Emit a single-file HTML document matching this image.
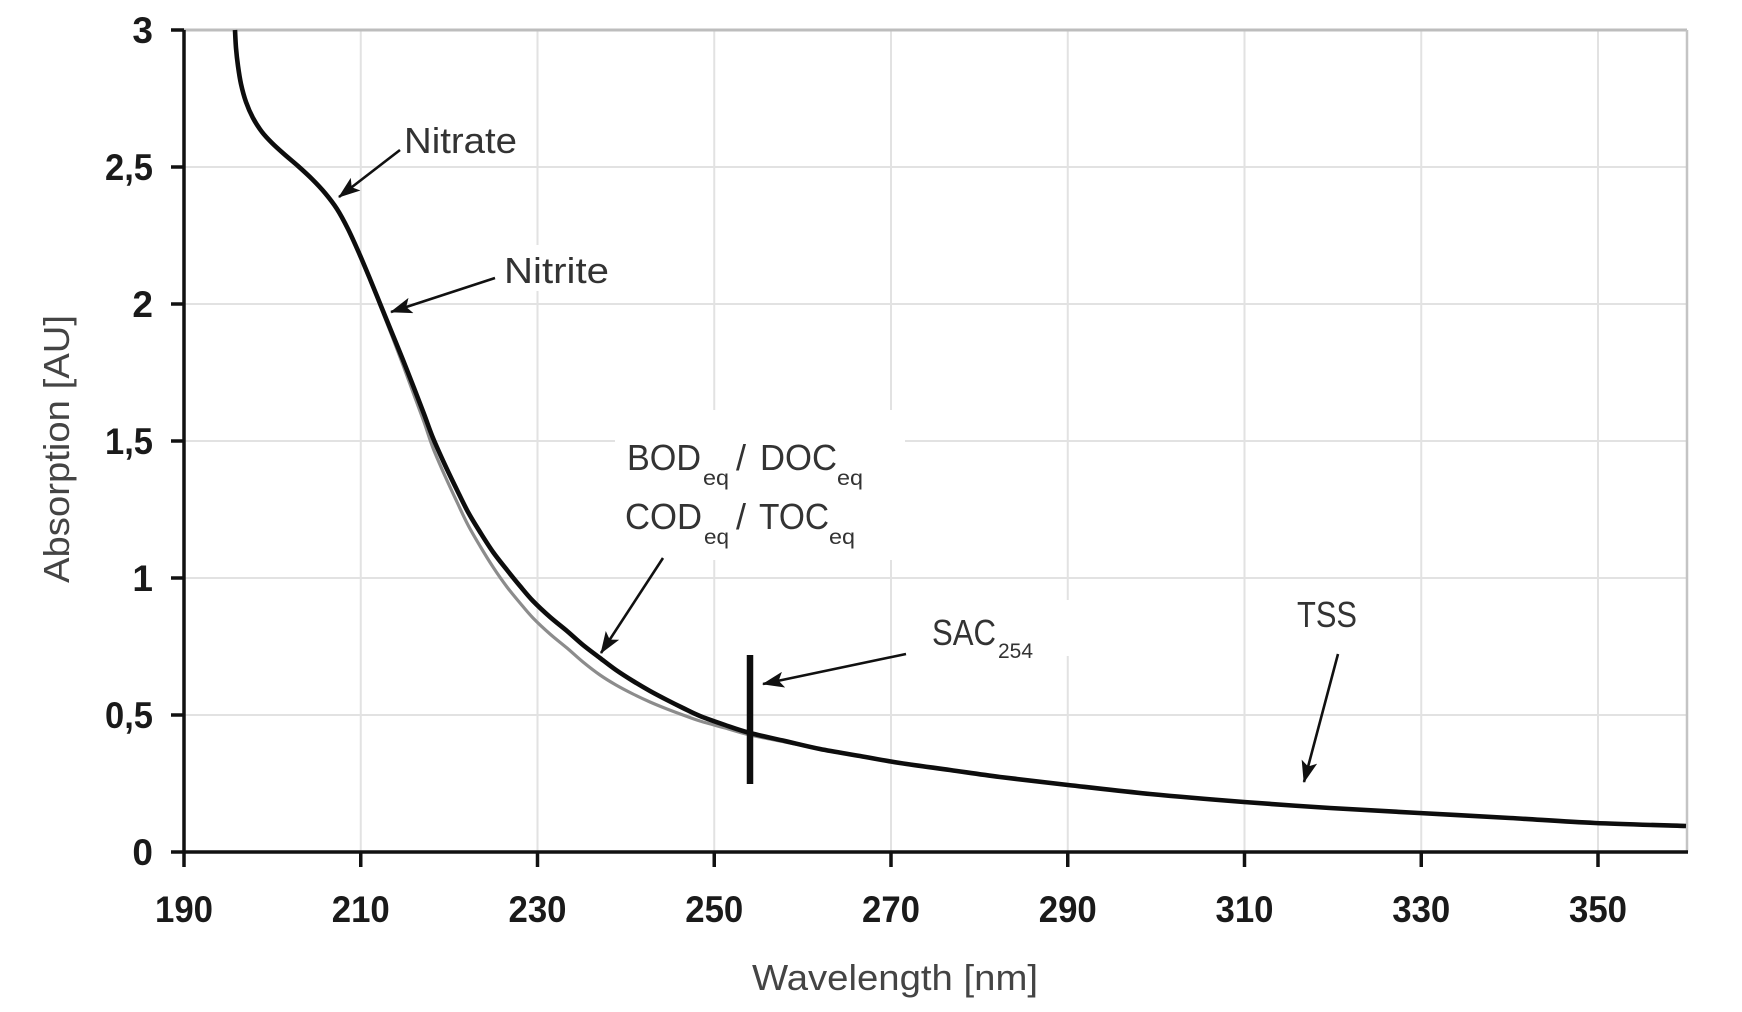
<!DOCTYPE html>
<html>
<head>
<meta charset="utf-8">
<style>
  html, body { margin: 0; padding: 0; background: #ffffff; }
  svg { display: block; }
  .tick { font-family: "Liberation Sans", Arial, sans-serif; font-weight: bold; font-size: 37px; fill: #1a1a1a; }
  .ann { font-family: "Liberation Sans", Arial, sans-serif; font-size: 36px; fill: #333333; }
  .sub { font-family: "Liberation Sans", Arial, sans-serif; font-size: 21px; fill: #333333; }
  .title { font-family: "Liberation Sans", Arial, sans-serif; font-size: 36px; fill: #444444; }
</style>
</head>
<body>
<svg width="1742" height="1012" viewBox="0 0 1742 1012" xmlns="http://www.w3.org/2000/svg">
  <defs>
    <marker id="ah" viewBox="0 0 22 16" refX="21" refY="8" markerWidth="22" markerHeight="16" markerUnits="userSpaceOnUse" orient="auto">
      <path d="M0,0 L22,8 L0,16 L5,8 z" fill="#111"/>
    </marker>
  </defs>
  <rect x="0" y="0" width="1742" height="1012" fill="#ffffff"/>

  <!-- gridlines -->
  <g stroke="#e2e2e2" stroke-width="2">
    <line x1="360.75" y1="30" x2="360.75" y2="852"/>
    <line x1="537.5" y1="30" x2="537.5" y2="852"/>
    <line x1="714.25" y1="30" x2="714.25" y2="852"/>
    <line x1="891" y1="30" x2="891" y2="852"/>
    <line x1="1067.75" y1="30" x2="1067.75" y2="852"/>
    <line x1="1244.5" y1="30" x2="1244.5" y2="852"/>
    <line x1="1421.25" y1="30" x2="1421.25" y2="852"/>
    <line x1="1598" y1="30" x2="1598" y2="852"/>
    <line x1="184" y1="167" x2="1687" y2="167"/>
    <line x1="184" y1="304" x2="1687" y2="304"/>
    <line x1="184" y1="441" x2="1687" y2="441"/>
    <line x1="184" y1="578" x2="1687" y2="578"/>
    <line x1="184" y1="715" x2="1687" y2="715"/>
  </g>
  <line x1="184" y1="30" x2="1687" y2="30" stroke="#bdbdbd" stroke-width="3"/>
  <line x1="1687" y1="30" x2="1687" y2="852" stroke="#c4c4c4" stroke-width="2.5"/>

  <!-- white label boxes interrupting grid -->
  <rect x="615" y="410" width="290" height="150" fill="#ffffff"/>
  <rect x="925" y="600" width="145" height="56" fill="#ffffff"/>
  <rect x="498" y="245" width="118" height="46" fill="#ffffff"/>

  <!-- axes -->
  <g stroke="#111" stroke-width="3.5">
    <line x1="184" y1="30" x2="184" y2="853.5"/>
    <line x1="171" y1="852" x2="1688" y2="852"/>
    <line x1="171" y1="30" x2="184" y2="30"/>
    <line x1="171" y1="167" x2="184" y2="167"/>
    <line x1="171" y1="304" x2="184" y2="304"/>
    <line x1="171" y1="441" x2="184" y2="441"/>
    <line x1="171" y1="578" x2="184" y2="578"/>
    <line x1="171" y1="715" x2="184" y2="715"/>
    <line x1="184" y1="852" x2="184" y2="867"/>
    <line x1="360.75" y1="852" x2="360.75" y2="867"/>
    <line x1="537.5" y1="852" x2="537.5" y2="867"/>
    <line x1="714.25" y1="852" x2="714.25" y2="867"/>
    <line x1="891" y1="852" x2="891" y2="867"/>
    <line x1="1067.75" y1="852" x2="1067.75" y2="867"/>
    <line x1="1244.5" y1="852" x2="1244.5" y2="867"/>
    <line x1="1421.25" y1="852" x2="1421.25" y2="867"/>
    <line x1="1598" y1="852" x2="1598" y2="867"/>
  </g>

  <!-- y tick labels -->
  <g class="tick" text-anchor="end">
    <text x="153" y="43">3</text>
    <text x="153" y="180" textLength="48" lengthAdjust="spacingAndGlyphs">2,5</text>
    <text x="153" y="317">2</text>
    <text x="153" y="454" textLength="48" lengthAdjust="spacingAndGlyphs">1,5</text>
    <text x="153" y="591">1</text>
    <text x="153" y="728" textLength="48" lengthAdjust="spacingAndGlyphs">0,5</text>
    <text x="153" y="865">0</text>
  </g>

  <!-- x tick labels -->
  <g class="tick">
    <text x="155" y="922" textLength="58" lengthAdjust="spacingAndGlyphs">190</text>
    <text x="331.75" y="922" textLength="58" lengthAdjust="spacingAndGlyphs">210</text>
    <text x="508.5" y="922" textLength="58" lengthAdjust="spacingAndGlyphs">230</text>
    <text x="685.25" y="922" textLength="58" lengthAdjust="spacingAndGlyphs">250</text>
    <text x="862" y="922" textLength="58" lengthAdjust="spacingAndGlyphs">270</text>
    <text x="1038.75" y="922" textLength="58" lengthAdjust="spacingAndGlyphs">290</text>
    <text x="1215.5" y="922" textLength="58" lengthAdjust="spacingAndGlyphs">310</text>
    <text x="1392.25" y="922" textLength="58" lengthAdjust="spacingAndGlyphs">330</text>
    <text x="1569" y="922" textLength="58" lengthAdjust="spacingAndGlyphs">350</text>
  </g>

  <!-- axis titles -->
  <text class="title" x="752" y="990" textLength="286" lengthAdjust="spacingAndGlyphs">Wavelength [nm]</text>
  <text class="title" transform="translate(69,449) rotate(-90)" x="0" y="0" text-anchor="middle" textLength="268" lengthAdjust="spacingAndGlyphs">Absorption [AU]</text>

  <!-- gray curve -->
  <path id="gry" class="smooth" fill="none" stroke="#8c8c8c" stroke-width="3.2" stroke-linejoin="round" stroke-linecap="round"
    d="M359,253 370,279 381,308 392,336 403,365 414,395 424,422 433,448 445,476 457,502 468,525 480,546 493,567 507,587 520,603 533,618 550,634 567,648 583,662 600,675 616,685 633,694 650,702 667,709 683,715 700,721 725,728 750,735 785,742 820,749"/>

  <!-- black curve -->
  <path id="blk" class="smooth" fill="none" stroke="#0d0d0d" stroke-width="4.6" stroke-linejoin="round" stroke-linecap="butt"
    d="M235,30 236,48 238,66 241,84 246,102 253,118 262,132 272,143 284,154 298,166 312,179 325,193 337,209 348,229 359,253 370,279 381,306 392,333 403,360 414,388 424,414 433,438 445,465 457,490 468,512 480,532 493,552 507,570 520,586 533,601 550,617 567,631 583,645 600,658 616,670 633,681 650,691 667,700 683,708 700,716 725,725 750,733 785,741 820,749 860,756 900,763 950,770 1000,777 1068,785 1150,794 1244,802 1330,808 1419,813 1510,818 1595,823 1686,826"/>

  <!-- SAC254 bar -->
  <line x1="750" y1="655" x2="750" y2="784" stroke="#0d0d0d" stroke-width="6.5"/>

  <!-- arrows -->
  <g stroke="#111" stroke-width="2.6" fill="none" marker-end="url(#ah)">
    <line x1="400" y1="150" x2="339" y2="197"/>
    <line x1="495" y1="278" x2="391" y2="312"/>
    <line x1="663" y1="558" x2="601" y2="653"/>
    <line x1="906" y1="654" x2="763" y2="684"/>
    <line x1="1338" y1="654" x2="1304" y2="782"/>
  </g>

  <!-- annotations -->
  <text class="ann" x="404" y="153" textLength="113" lengthAdjust="spacingAndGlyphs">Nitrate</text>
  <text class="ann" x="504" y="283" textLength="105" lengthAdjust="spacingAndGlyphs">Nitrite</text>

  <text class="ann" x="627" y="470" textLength="74" lengthAdjust="spacingAndGlyphs">BOD</text>
  <text class="sub" x="703" y="485" textLength="26" lengthAdjust="spacingAndGlyphs">eq</text>
  <text class="ann" x="736" y="470">/</text>
  <text class="ann" x="760" y="470" textLength="77" lengthAdjust="spacingAndGlyphs">DOC</text>
  <text class="sub" x="837" y="485" textLength="26" lengthAdjust="spacingAndGlyphs">eq</text>

  <text class="ann" x="625" y="529" textLength="77" lengthAdjust="spacingAndGlyphs">COD</text>
  <text class="sub" x="704" y="544" textLength="25" lengthAdjust="spacingAndGlyphs">eq</text>
  <text class="ann" x="736" y="529">/</text>
  <text class="ann" x="759" y="529" textLength="70" lengthAdjust="spacingAndGlyphs">TOC</text>
  <text class="sub" x="829" y="544" textLength="26" lengthAdjust="spacingAndGlyphs">eq</text>

  <text class="ann" x="932" y="645" textLength="64" lengthAdjust="spacingAndGlyphs">SAC</text>
  <text class="sub" x="998" y="658" textLength="35" lengthAdjust="spacingAndGlyphs">254</text>

  <text class="ann" x="1297" y="627" textLength="60" lengthAdjust="spacingAndGlyphs">TSS</text>
</svg>
<script>
(function(){
  var paths = document.querySelectorAll('path.smooth');
  for (var k = 0; k < paths.length; k++) {
    var p = paths[k];
    var nums = p.getAttribute('d').replace(/[ML]/g,' ').trim().split(/[\s,]+/).map(Number);
    var pts = [];
    for (var i = 0; i + 1 < nums.length; i += 2) pts.push([nums[i], nums[i+1]]);
    if (pts.length < 3) continue;
    var d = 'M' + pts[0][0] + ',' + pts[0][1];
    for (var j = 0; j < pts.length - 1; j++) {
      var p0 = pts[j-1] || pts[j], p1 = pts[j], p2 = pts[j+1], p3 = pts[j+2] || pts[j+1];
      var c1x = p1[0] + (p2[0]-p0[0])/6, c1y = p1[1] + (p2[1]-p0[1])/6;
      var c2x = p2[0] - (p3[0]-p1[0])/6, c2y = p2[1] - (p3[1]-p1[1])/6;
      d += ' C' + c1x.toFixed(2) + ',' + c1y.toFixed(2) + ' ' + c2x.toFixed(2) + ',' + c2y.toFixed(2) + ' ' + p2[0] + ',' + p2[1];
    }
    p.setAttribute('d', d);
  }
})();
</script>
</body>
</html>
